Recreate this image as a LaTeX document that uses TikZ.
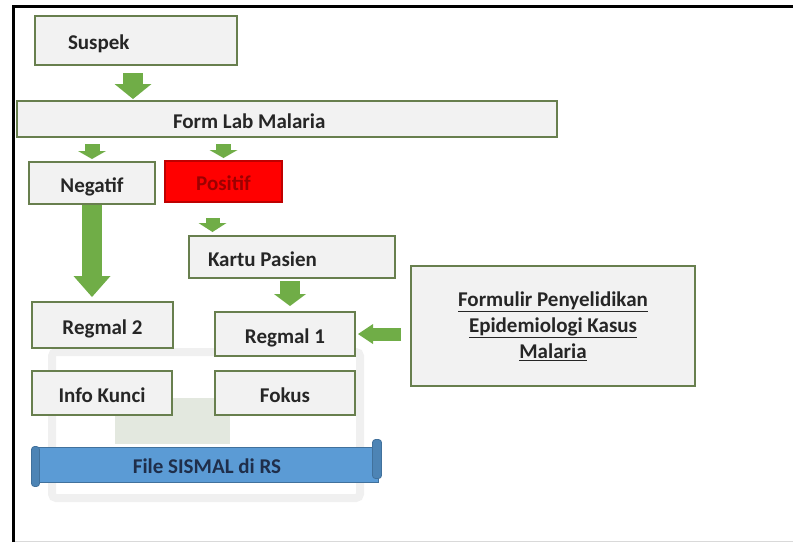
\documentclass[tikz,border=0pt]{standalone}
\usepackage{fontspec}
\setmainfont{Carlito}
\usepackage{tikz}
\usetikzlibrary{positioning, arrows.meta, calc}

\definecolor{boxfill}{HTML}{F2F2F2}
\definecolor{boxline}{HTML}{687F4E}
\definecolor{arrgreen}{HTML}{70AD47}
\definecolor{txtgray}{HTML}{262626}
\definecolor{banblue}{HTML}{5B9BD5}
\definecolor{banline}{HTML}{41719C}
\definecolor{bantext}{HTML}{1F2E4A}
\definecolor{posred}{HTML}{FF0000}
\definecolor{postext}{HTML}{9C0000}

\begin{document}
\begin{tikzpicture}[x=1pt, y=-1pt,
  font=\fontsize{21}{26}\selectfont\bfseries,
  plainbox/.style={draw=boxline, line width=2pt, fill=boxfill, text=txtgray, inner sep=0pt},
  box/.style={plainbox, text height=20pt, text depth=2pt},
  blk/.style n args={3}{draw=arrgreen, line width=#1, -{Triangle[width=#2, length=#3, line width'=0pt]}}]
\useasboundingbox (0,0) rectangle (793,542);

% Frame
\coordinate (tl) at (13,6);
\draw[gray!30, line width=1pt] (13,541) -- (793,541);
\draw[line width=3pt] (13,542) -- (tl) -- (793,6);

% faded picture behind the lower boxes
\draw[gray!12, line width=8pt, rounded corners=4pt] (52,352) rectangle (360,498);
\fill[arrgreen!60!black, opacity=0.15] (115,398) -- (230,398) -- (230,444) -- (115,444) -- cycle;

% Boxes
\node[box, minimum width=202pt, minimum height=49pt, inner xsep=33pt] (suspek) at (136,40.5) {\makebox[136pt][l]{Suspek}};
\node[box, minimum width=540pt, minimum height=36pt, inner xsep=156pt] (formlab) at (287,119) {\makebox[228pt][l]{Form Lab Malaria}};
\node[box, minimum width=126pt, minimum height=42pt] (negatif) at (92,183) {Negatif};
\node[box, fill=posred, draw=posred!75!black, text=postext, minimum width=117pt, minimum height=41pt] (positif) at (223.5,181.5) {Positif};
\node[box, minimum width=206pt, minimum height=42pt, inner xsep=19pt] (kartu) at (292,257) {\makebox[168pt][l]{Kartu Pasien}};
\node[box, minimum width=141pt, minimum height=46pt] (regmal2) at (102.5,325) {Regmal 2};
\node[box, minimum width=140pt, minimum height=44pt] (regmal1) at (285,334) {Regmal 1};
\node[plainbox, minimum width=284pt, minimum height=120pt, align=center] (formulir) at (553,326)
  {\underline{Formulir Penyelidikan}\\ \underline{Epidemiologi Kasus}\\ \underline{Malaria}};
\node[box, minimum width=140pt, minimum height=44pt] (infokunci) at (102,393) {Info Kunci};
\node[box, minimum width=140pt, minimum height=44pt] (fokus) at (285,393) {Fokus};

% Scroll banner
\node[box, fill=banblue, draw=banline, line width=1pt, text=bantext, minimum width=342pt, minimum height=35pt] (sismal) at (207,464.5) {File SISMAL di RS};
\filldraw[fill=banblue!85!black, draw=banline, line width=0.8pt, rounded corners=3pt]
  ($(sismal.north west)+(-4,0)$) rectangle ($(sismal.south west)+(4,4)$);
\filldraw[fill=banblue!85!black, draw=banline, line width=0.8pt, rounded corners=3pt]
  ($(sismal.north east)+(-6,-7)$) rectangle ($(sismal.south east)+(3,-4)$);

% Arrows
\draw[blk={20pt}{37pt}{15pt}, shorten <=7pt, shorten >=1pt] ([xshift=-3pt]suspek.south) -- ([xshift=-3pt]suspek.south |- formlab.north);
\draw[blk={15pt}{28pt}{8pt}, shorten <=6pt, shorten >=2pt] (formlab.south -| negatif.north) -- (negatif.north);
\draw[blk={15pt}{28pt}{8pt}, shorten <=6pt, shorten >=2pt] (formlab.south -| positif.north) -- (positif.north);
\draw[blk={20pt}{37pt}{21pt}, shorten >=4pt] (negatif.south) -- (negatif.south |- regmal2.north);
\draw[blk={14pt}{28pt}{9pt}, shorten <=15pt, shorten >=3pt] ([xshift=-11pt]positif.south) -- ([xshift=-11pt]positif.south |- kartu.north);
\draw[blk={20pt}{32pt}{12pt}, shorten <=2pt, shorten >=5pt] ([xshift=-2pt]kartu.south) -- ([xshift=-2pt]kartu.south |- regmal1.north);
\draw[blk={13pt}{20pt}{15pt}, shorten <=9pt, shorten >=2pt] (formulir.west |- regmal1.east) -- (regmal1.east);
\end{tikzpicture}
\end{document}
